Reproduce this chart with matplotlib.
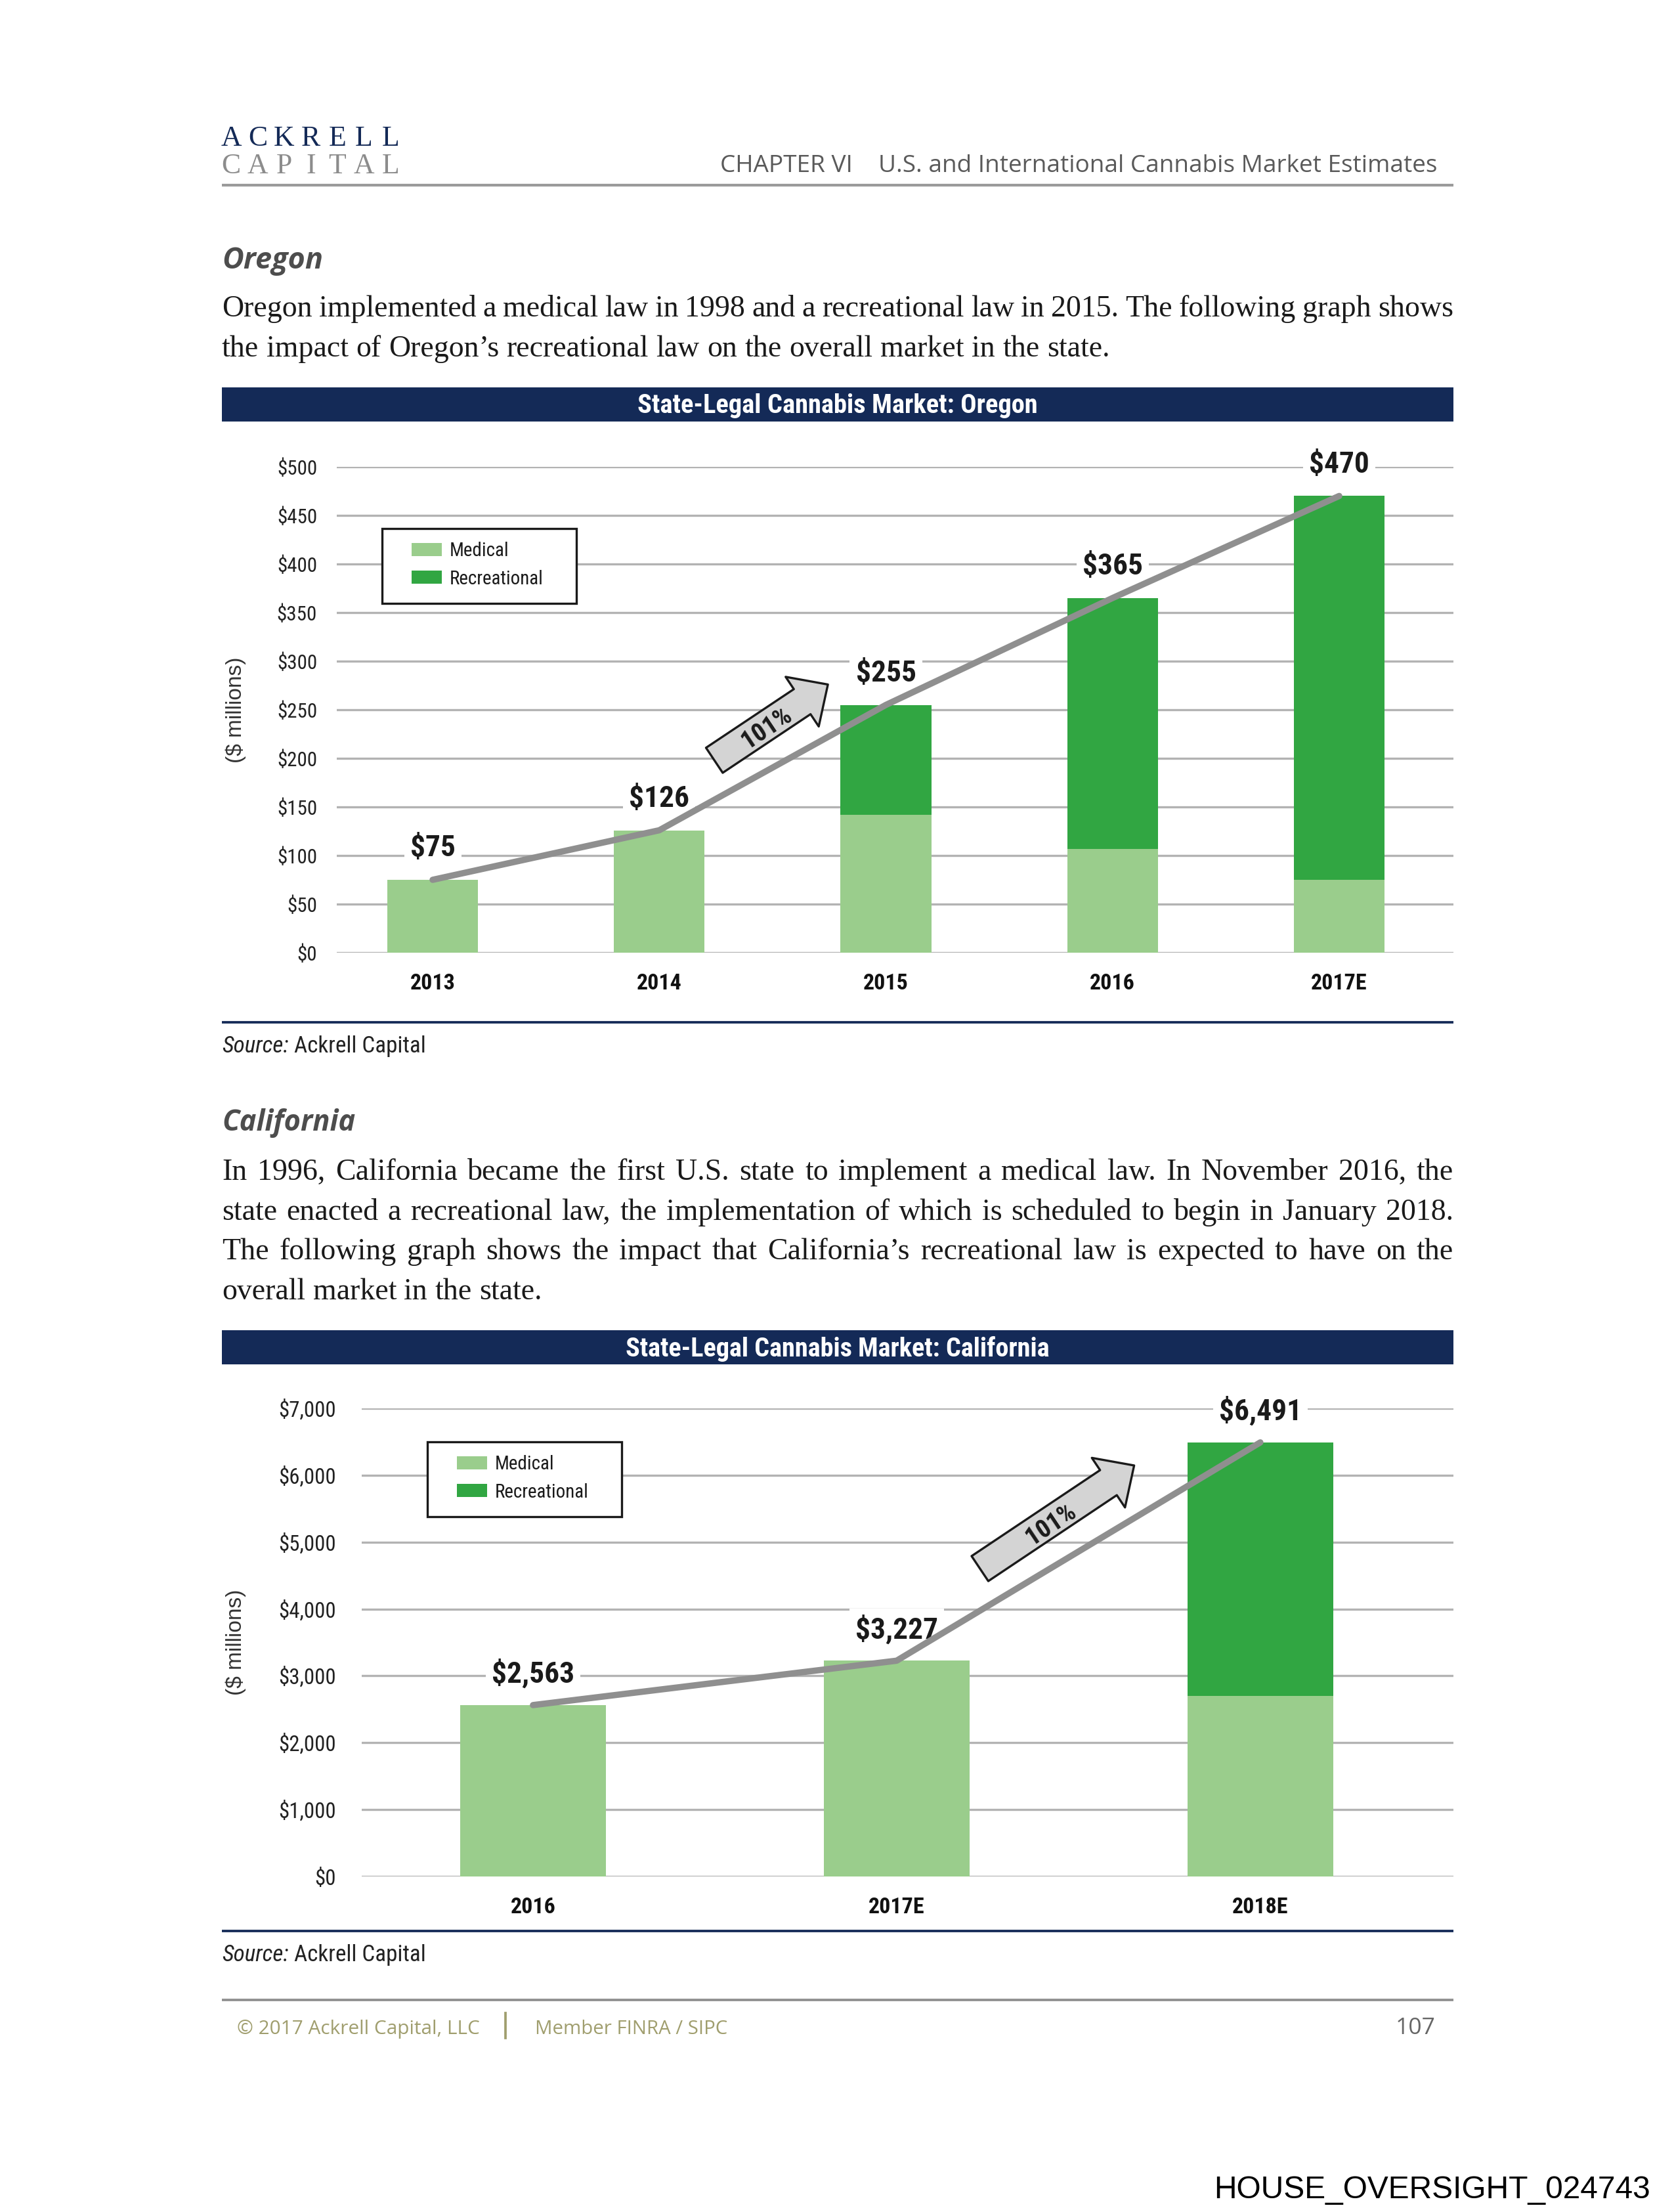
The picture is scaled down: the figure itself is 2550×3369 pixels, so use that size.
import matplotlib
matplotlib.use('Agg')
import matplotlib.pyplot as plt
from matplotlib import font_manager
from matplotlib.transforms import Affine2D
from matplotlib.patches import Rectangle, Patch, ArrowStyle
from matplotlib.lines import Line2D
import numpy as np

# ---------------- data ----------------
series_names = ['Medical', 'Recreational']

or_years = ['2013', '2014', '2015', '2016', '2017E']
or_medical = [75, 126, 142, 107, 75]
or_recreational = [0, 0, 113, 258, 395]
or_totals = [75, 126, 255, 365, 470]
or_yticks = [0, 50, 100, 150, 200, 250, 300, 350, 400, 450, 500]

ca_years = ['2016', '2017E', '2018E']
ca_medical = [2563, 3227, 2700]
ca_recreational = [0, 0, 3791]
ca_totals = [2563, 3227, 6491]
ca_yticks = [0, 1000, 2000, 3000, 4000, 5000, 6000, 7000]

growth_label = '101%'

# ---------------- fonts ----------------
ttf = font_manager.fontManager.ttflist
names = {f.name for f in ttf}
if 'Liberation Sans Narrow' in names:
    NARROW = dict(family='Liberation Sans Narrow'); NS = 1.0
elif 'Roboto Condensed' in names:
    NARROW = dict(family='Roboto Condensed'); NS = 0.93
else:
    NARROW = dict(family='Liberation Sans'); NS = 0.82
SERIF = 'Liberation Serif'
SANS = 'Liberation Sans'
HUM = 'Open Sans'

NAVY = '#142a57'
MED = '#9acd8c'
REC = '#31a642'
GRID = '#b3b3b3'
LINEC = '#8f8f8f'
OLIVE = '#a09e6e'

W, H, DPI = 2550, 3369, 300
fig = plt.figure(figsize=(W / DPI, H / DPI), dpi=DPI)
fig.patch.set_facecolor('white')
PX = Affine2D().scale(1 / W, -1 / H).translate(0, 1) + fig.transFigure
renderer = fig.canvas.get_renderer()


def ptext(x, y, s, **kw):
    return fig.text(x, y, s, transform=PX, **kw)


def width(t):
    return t.get_window_extent(renderer).width


def fit(t, target):
    t.set_fontsize(t.get_fontsize() * target / width(t))
    return t


def hline(x0, x1, y, color, lw):
    fig.add_artist(Line2D([x0, x1], [y, y], transform=PX, color=color, lw=lw,
                          solid_capstyle='butt'))


# ---------------- page header ----------------
xs = np.linspace(352, 595, 7)
for i, ch in enumerate('ACKRELL'):
    ptext(xs[i], 222, ch, ha='center', va='baseline', family=SERIF, fontsize=10.5, color=NAVY)
for i, ch in enumerate('CAPITAL'):
    ptext(xs[i], 264, ch, ha='center', va='baseline', family=SERIF, fontsize=10.5, color='#8c8c8c')
t1 = ptext(2189, 262, 'U.S. and International Cannabis Market Estimates', ha='right',
           va='baseline', family=HUM, fontsize=9, color='#5a5a5a')
fit(t1, 852)
ptext(1299, 262, 'CHAPTER VI', ha='right', va='baseline', family=HUM,
      fontsize=t1.get_fontsize(), color='#5a5a5a')
hline(338, 2214, 282, '#9a9a9a', 1.0)

# ---------------- paragraphs ----------------
probe = ptext(0, 0, 'the impact of Oregon\u2019s recreational law on the overall market in the state.',
              family=SERIF, fontsize=12)
fit(probe, 1352)
PFS = probe.get_fontsize()
probe.remove()
sp1 = ptext(0, 0, 'x x', family=SERIF, fontsize=PFS)
sp2 = ptext(0, 0, 'xx', family=SERIF, fontsize=PFS)
SPACE = width(sp1) - width(sp2)
sp1.remove(); sp2.remove()


def para_line(s, y, justify, x0=338, x1=2214):
    words = s.split(' ')
    ts = [ptext(0, y, w, family=SERIF, fontsize=PFS, va='baseline', ha='left', color='#1a1a1a')
          for w in words]
    ws = [width(t) for t in ts]
    gap = (x1 - x0 - sum(ws)) / (len(words) - 1) if justify else SPACE
    x = x0
    for t, w in zip(ts, ws):
        t.set_x(x)
        x += w + gap


def heading(s, y, target):
    t = ptext(338, y, s, family=HUM, fontweight='bold', style='italic', fontsize=11,
              va='baseline', color='#4d4d4d')
    fit(t, target)


def source(y):
    a = ptext(338, y, 'Source:', style='italic', fontsize=9 * NS, va='baseline', color='#222222', **NARROW)
    b = ptext(338, y, ' Ackrell Capital', fontsize=9 * NS, va='baseline', color='#222222', **NARROW)
    tot = width(a) + width(b)
    s = 311 / tot
    a.set_fontsize(a.get_fontsize() * s)
    b.set_fontsize(b.get_fontsize() * s)
    b.set_x(338 + width(a))


def title_bar(y0, y1, s, target):
    fig.add_artist(Rectangle((338, y0), 1876, y1 - y0, transform=PX, fc=NAVY, ec='none'))
    t = ptext(1276, (y0 + y1) / 2 + 2, s, ha='center', va='center', color='white',
              fontweight='bold', fontsize=10, **NARROW)
    fit(t, target)


heading('Oregon', 409, 154)
para_line('Oregon implemented a medical law in 1998 and a recreational law in 2015. The following graph shows', 482, True)
para_line('the impact of Oregon\u2019s recreational law on the overall market in the state.', 543, False)
title_bar(590, 642, 'State-Legal Cannabis Market: Oregon', 610)

hline(338, 2214, 1557, NAVY, 0.9)
source(1603)

heading('California', 1722, 204)
para_line('In 1996, California became the first U.S. state to implement a medical law. In November 2016, the', 1797, True)
para_line('state enacted a recreational law, the implementation of which is scheduled to begin in January 2018.', 1858, True)
para_line('The following graph shows the impact that California\u2019s recreational law is expected to have on the', 1918, True)
para_line('overall market in the state.', 1979, False)
title_bar(2026, 2078, 'State-Legal Cannabis Market: California', 647)

hline(338, 2214, 2941, NAVY, 0.9)
source(2987)

# ---------------- footer ----------------
hline(338, 2214, 3046, '#8f8f8f', 0.9)
f1 = ptext(361, 3098, '\u00a9 2017 Ackrell Capital, LLC', family=HUM, fontsize=8, va='baseline', color=OLIVE)
fit(f1, 370)
fig.add_artist(Line2D([770, 770], [3066, 3104], transform=PX, color=OLIVE, lw=0.9))
f2 = ptext(815, 3098, 'Member FINRA / SIPC', family=HUM, fontsize=8, va='baseline', color=OLIVE)
fit(f2, 294)
f3 = ptext(2187, 3098, '107', family=HUM, fontsize=8, va='baseline', ha='right', color='#666666')
fit(f3, 61)
f4 = ptext(1849, 3348, 'HOUSE_OVERSIGHT_024743', family=SANS, fontsize=13, va='baseline', color='black')
fit(f4, 666)


# ---------------- charts ----------------
def make_chart(box, xlim, cats, med, rec, tot, yticks, ymax, tick_pad, tick_fs, ylab_x,
               legend_box, arrow_tail, arrow_tip):
    axL, axT, axR, axB = box
    ax = fig.add_axes([axL / W, 1 - axB / H, (axR - axL) / W, (axB - axT) / H])
    ax.set_facecolor('none')
    x = np.arange(len(cats))
    ax.bar(x, med, width=0.40, color=MED, zorder=2, label=series_names[0])
    ax.bar(x, rec, width=0.40, bottom=med, color=REC, zorder=2, label=series_names[1])
    ax.plot(x, tot, color=LINEC, lw=2.3, zorder=6, solid_capstyle='round')
    for xi, v in zip(x, tot):
        ax.annotate(f'${v:,}', xy=(xi, v), xytext=(0, 12.5), textcoords='offset points',
                    ha='center', va='center_baseline', fontweight='bold', fontsize=11.7 * NS,
                    color='#1a1a1a', zorder=5, annotation_clip=False,
                    bbox=dict(boxstyle='square,pad=0.2', fc='white', ec='none'), **NARROW)
    ax.set_xlim(*xlim)
    ax.set_ylim(0, ymax)
    ax.set_yticks(yticks)
    ax.set_yticklabels([f'${v:,}' for v in yticks], fontsize=tick_fs * NS, color='#222222', **NARROW)
    ax.set_xticks(x)
    ax.set_xticklabels(cats, fontsize=8.8 * NS, fontweight='bold', color='#111111', **NARROW)
    ax.tick_params(axis='y', length=0, pad=tick_pad)
    ax.tick_params(axis='x', length=0, pad=7.4)
    ax.grid(axis='y', color=GRID, lw=0.8, zorder=0)
    ax.set_axisbelow(True)
    for s in ax.spines.values():
        s.set_visible(False)
    ax.set_ylabel('($ millions)', family=SANS, fontsize=8, color='#333333', va='center')
    ax.yaxis.set_label_coords((ylab_x - axL) / (axR - axL), 0.5)

    # legend: framed box + legend content
    bx, by = legend_box
    ax.add_artist(Rectangle((bx, by), 296, 114, transform=PX, fc='white', ec='#1a1a1a',
                            lw=0.8, zorder=7, clip_on=False))
    lfs = 7.5 * NS
    em = lfs * DPI / 72
    handles = [Patch(fc=MED, ec='none'), Patch(fc=REC, ec='none')]
    leg = ax.legend(handles, series_names, loc='upper left',
                    bbox_to_anchor=((bx + 45 - axL) / (axR - axL), (axB - (by + 20)) / (axB - axT)),
                    frameon=False, borderpad=0, borderaxespad=0,
                    handlelength=46 / em, handleheight=20 / em, handletextpad=12 / em,
                    labelspacing=0.5, prop=dict(size=lfs, **NARROW))
    leg.set_zorder(8)
    for t in leg.get_texts():
        t.set_color('#1a1a1a')

    # growth arrow
    style = ArrowStyle('simple', head_length=1.13, head_width=2.18, tail_width=1.10)
    ax.annotate('', xy=arrow_tip, xytext=arrow_tail, xycoords='data', annotation_clip=False,
                arrowprops=dict(arrowstyle=style, mutation_scale=10, fc='#d4d4d4', ec='#1a1a1a',
                                lw=0.8, shrinkA=0, shrinkB=0), zorder=4)
    p0 = ax.transData.transform(arrow_tail)
    p1 = ax.transData.transform(arrow_tip)
    ang = np.degrees(np.arctan2(p1[1] - p0[1], p1[0] - p0[0]))
    mx = arrow_tail[0] + 0.45 * (arrow_tip[0] - arrow_tail[0])
    my = arrow_tail[1] + 0.45 * (arrow_tip[1] - arrow_tail[1])
    ax.text(mx, my, growth_label, rotation=ang, rotation_mode='anchor', ha='center',
            va='center_baseline', fontweight='bold', fontsize=10 * NS, color='#1a1a1a',
            zorder=5, **NARROW)
    return ax


make_chart((513, 711, 2214, 1451), (-0.423, 4.504), or_years, or_medical, or_recreational,
           or_totals, or_yticks, 500, 7.2, 8.0, 359, (582, 805),
           (1.243, 198), (1.744, 276))
make_chart((551, 2145, 2214, 2858), (-0.471, 2.531), ca_years, ca_medical, ca_recreational,
           ca_totals, ca_yticks, 7000, 9.4, 8.5, 359, (651, 2196),
           (1.229, 4604), (1.653, 6146))

fig.savefig('out.png', dpi=DPI, facecolor='white')
